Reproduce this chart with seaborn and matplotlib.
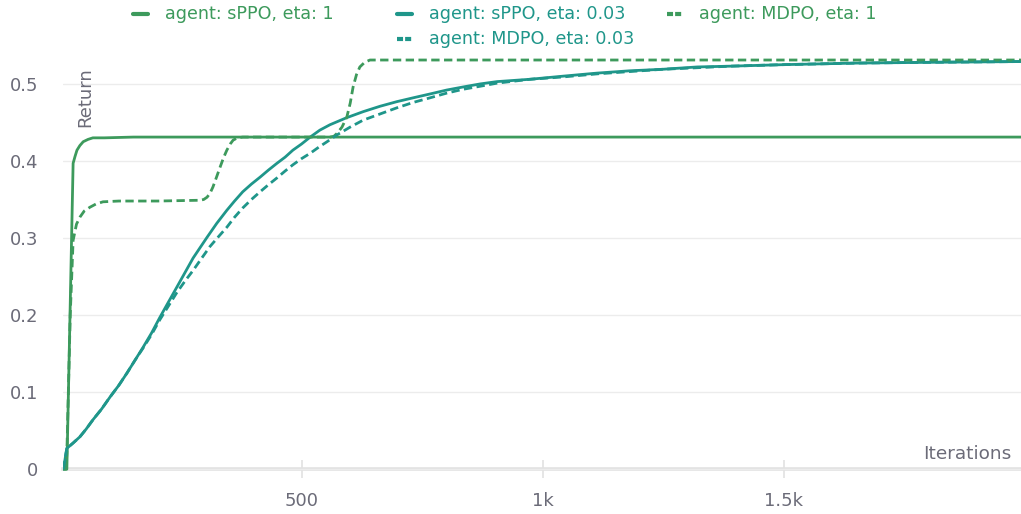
import numpy as np
import pandas as pd
import matplotlib
matplotlib.use("Agg")
import matplotlib.pyplot as plt
from matplotlib.lines import Line2D
import seaborn as sns

GREEN = "#3d9a5c"
TEAL = "#1f968a"
TEXT = "#6b6b78"

# --- data ---
sppo_1_iter = [5, 10, 12, 25, 29, 33, 39, 46, 56, 66, 90, 150, 400, 1000, 1992]
sppo_1_ret = [0.0, 0.0, 0.0, 0.397, 0.406, 0.414, 0.420, 0.425, 0.428, 0.430, 0.430, 0.431, 0.431, 0.431, 0.431]

mdpo_1_iter = [5, 10, 12, 19, 25, 32, 39, 48, 60, 72, 87, 120, 200, 288, 296, 303, 309, 315, 322,
               330, 337, 344, 351, 357, 366, 377, 450, 558, 566, 573, 583, 593, 600, 606, 613,
               620, 630, 641, 700, 1000, 1992]
mdpo_1_ret = [0.0, 0.0, 0.02, 0.20, 0.297, 0.318, 0.327, 0.335, 0.340, 0.344, 0.347, 0.348, 0.348,
              0.349, 0.350, 0.353, 0.358, 0.366, 0.378, 0.392, 0.404, 0.414, 0.422, 0.427, 0.430,
              0.431, 0.431, 0.431, 0.432, 0.436, 0.444, 0.457, 0.475, 0.496, 0.512, 0.522, 0.528,
              0.531, 0.531, 0.531, 0.531]

sppo_003_iter = [5, 10, 12, 25, 39, 52, 66, 84, 102, 120, 137, 153, 170, 188, 205, 222, 240,
                 257, 274, 289, 303, 323, 344, 360, 377, 395, 413, 430, 448, 465, 481, 499,
                 517, 537, 558, 592, 627, 662, 697, 731, 766, 800, 834, 870, 905, 973, 1041,
                 1112, 1180, 1249, 1320, 1388, 1500, 1650, 1800, 1992]
sppo_003_ret = [0.0, 0.02, 0.027, 0.034, 0.042, 0.052, 0.064, 0.078, 0.094, 0.109, 0.125, 0.141,
                0.158, 0.177, 0.197, 0.216, 0.236, 0.255, 0.274, 0.288, 0.301, 0.319, 0.336,
                0.348, 0.360, 0.370, 0.379, 0.388, 0.397, 0.405, 0.414, 0.422, 0.431, 0.440,
                0.447, 0.456, 0.464, 0.471, 0.477, 0.482, 0.487, 0.492, 0.496, 0.500, 0.503,
                0.506, 0.510, 0.514, 0.517, 0.519, 0.522, 0.523, 0.525, 0.527, 0.528, 0.529]

mdpo_003_iter = [5, 10, 12, 25, 39, 52, 66, 84, 102, 120, 137, 153, 170, 188, 205, 222, 240,
                 257, 274, 292, 309, 327, 344, 360, 377, 395, 413, 430, 448, 465, 481, 499,
                 517, 535, 552, 573, 600, 627, 662, 697, 731, 766, 800, 834, 870, 905, 973,
                 1041, 1112, 1180, 1249, 1320, 1388, 1500, 1650, 1800, 1992]
mdpo_003_ret = [0.0, 0.02, 0.027, 0.034, 0.042, 0.052, 0.064, 0.078, 0.094, 0.109, 0.125, 0.141,
                0.157, 0.175, 0.194, 0.211, 0.229, 0.244, 0.258, 0.274, 0.289, 0.302, 0.314,
                0.327, 0.339, 0.350, 0.360, 0.369, 0.378, 0.387, 0.395, 0.403, 0.410, 0.418,
                0.425, 0.434, 0.444, 0.453, 0.461, 0.469, 0.476, 0.482, 0.488, 0.493, 0.497,
                0.501, 0.506, 0.509, 0.513, 0.516, 0.519, 0.521, 0.523, 0.525, 0.527, 0.528,
                0.529]

labels = ["agent: sPPO, eta: 1", "agent: sPPO, eta: 0.03",
          "agent: MDPO, eta: 1", "agent: MDPO, eta: 0.03"]
series = [(sppo_1_iter, sppo_1_ret), (sppo_003_iter, sppo_003_ret),
          (mdpo_1_iter, mdpo_1_ret), (mdpo_003_iter, mdpo_003_ret)]

frames = []
for lab, (it, rt) in zip(labels, series):
    frames.append(pd.DataFrame({"Iterations": it, "Return": rt, "series": lab}))
df = pd.concat(frames, ignore_index=True)

palette = {labels[0]: GREEN, labels[1]: TEAL, labels[2]: GREEN, labels[3]: TEAL}
dashes = {labels[0]: "", labels[1]: "", labels[2]: (3, 1.6), labels[3]: (3, 1.6)}

sns.set_theme(style="white")
plt.rcParams["font.family"] = ["DejaVu Sans"]

fig = plt.figure(figsize=(10.21, 5.14), dpi=100)
ax = fig.add_axes([63 / 1021, 1 - 490 / 514, (1021 - 63) / 1021, (490 - 50) / 514])

sns.lineplot(data=df, x="Iterations", y="Return", hue="series", style="series",
             palette=palette, dashes=dashes, linewidth=2.0, legend=False, ax=ax,
             estimator=None, sort=False)

ax.set_xlim(4, 1992)
ax.set_ylim(-0.027, 0.544)

ax.set_yticks([0, 0.1, 0.2, 0.3, 0.4, 0.5])
ax.set_yticklabels(["0", "0.1", "0.2", "0.3", "0.4", "0.5"])
ax.set_xticks([500, 1000, 1500])
ax.set_xticklabels(["500", "1k", "1.5k"])

for s in ["top", "right", "left"]:
    ax.spines[s].set_visible(False)
ax.spines["bottom"].set_position(("data", 0))
ax.spines["bottom"].set_color("#e2e2e2")
ax.spines["bottom"].set_linewidth(2.6)
ax.spines["bottom"].set_zorder(0.5)

ax.yaxis.grid(True, color="#ececec", linewidth=1)
ax.xaxis.grid(False)
ax.set_axisbelow(True)

ax.tick_params(axis="y", left=False, length=0, pad=18, labelsize=13, labelcolor=TEXT)
ax.tick_params(axis="x", bottom=True, direction="inout", length=13, width=1.2,
               color="#e2e2e2", pad=10, labelsize=13, labelcolor=TEXT)

ax.set_xlabel("")
ax.set_ylabel("")
ax.text(0.023, 0.96, "Return", transform=ax.transAxes, rotation=90, ha="center", va="top",
        fontsize=13, color=TEXT)
ax.text(0.99, 0.082, "Iterations", transform=ax.transAxes, ha="right", va="center",
        fontsize=13.3, color=TEXT)

# legend drawn like the source: 3 slots in row one, one under the middle slot
legend_slots = [(133, 14), (397, 14), (667, 14), (397, 39)]
legend_styles = ["-", "-", "--", "--"]
legend_colors = [GREEN, TEAL, GREEN, TEAL]
for (px, py), ls, col, lab in zip(legend_slots, legend_styles, legend_colors, labels):
    yf = 1 - py / 514
    line = Line2D([px / 1021, (px + 15) / 1021], [yf, yf], transform=fig.transFigure,
                  color=col, linewidth=3, linestyle=ls,
                  dashes=(1.45, 0.5) if ls == "--" else (None, None))
    fig.add_artist(line)
    fig.text((px + 32) / 1021, yf, lab, color=col, fontsize=12.6, ha="left", va="center")

fig.savefig("out.png", dpi=100)
